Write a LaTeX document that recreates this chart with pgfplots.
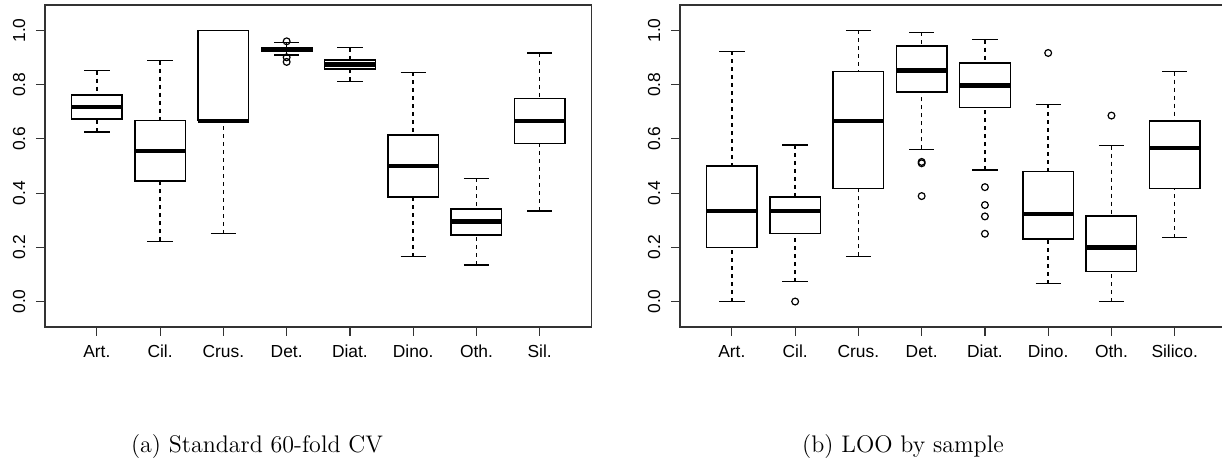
\documentclass[border=0pt]{standalone}
\usepackage{fontspec}
\newfontfamily\rfont{Liberation Sans}
\usepackage{pgfplots}
\pgfplotsset{compat=1.18}
\usepgfplotslibrary{statistics}

% R-like boxplot: dashed whiskers, solid staples, thick median, open circles
\pgfplotsset{
  rbox/.style={
    black, line width=0.7pt, mark=o, mark size=1.7pt,
    mark options={solid, line width=0.6pt},
    boxplot/draw direction=y,
    boxplot/box extend=0.8,
    boxplot/whisker extend=0.4,
    boxplot/every median/.style={line width=2.2pt},
    boxplot/draw/lower whisker/.code={%
      \draw[dash pattern=on 2pt off 2pt]
        (boxplot box cs:\pgfplotsboxplotvalue{lower whisker},0.5) --
        (boxplot box cs:\pgfplotsboxplotvalue{lower quartile},0.5);
      \draw (boxplot whisker cs:\pgfplotsboxplotvalue{lower whisker},0) --
        (boxplot whisker cs:\pgfplotsboxplotvalue{lower whisker},1);
    },
    boxplot/draw/upper whisker/.code={%
      \draw[dash pattern=on 2pt off 2pt]
        (boxplot box cs:\pgfplotsboxplotvalue{upper whisker},0.5) --
        (boxplot box cs:\pgfplotsboxplotvalue{upper quartile},0.5);
      \draw (boxplot whisker cs:\pgfplotsboxplotvalue{upper whisker},0) --
        (boxplot whisker cs:\pgfplotsboxplotvalue{upper whisker},1);
    },
  },
  rpanel/.style={
    scale only axis, width=273.3pt, height=161pt, anchor=south west,
    xmin=0.18, xmax=8.82, ymin=-0.094, ymax=1.094,
    xtick={1,2,3,4,5,6,7,8},
    ytick={0,0.2,0.4,0.6,0.8,1.0},
    yticklabels={0.0,0.2,0.4,0.6,0.8,1.0},
    tick align=outside, tick pos=left, major tick length=4.5pt,
    axis line style={black!80, line width=0.7pt},
    every tick/.style={black!80, line width=0.6pt},
    ticklabel style={font=\rfont\fontsize{8.7}{10}\selectfont},
    xticklabel style={anchor=base}, xticklabel shift=11pt,
    yticklabel style={rotate=90, anchor=south, inner sep=0pt}, yticklabel shift=5.2pt,
  },
}
% position, lower whisker, lower quartile, median, upper quartile, upper whisker
\newcommand{\rbox}[6]{\addplot[rbox, boxplot prepared={draw position=#1,
  lower whisker=#2, lower quartile=#3, median=#4, upper quartile=#5, upper whisker=#6}]}

\begin{document}
\begin{tikzpicture}
\useasboundingbox (0pt,0pt) rectangle (611pt,233pt);

% (a) Standard 60-fold CV
\begin{axis}[rpanel, at={(22.5pt,69.5pt)},
  xticklabels={Art.,Cil.,Crus.,Det.,Diat.,Dino.,Oth.,Sil.}]
\rbox{1}{0.626}{0.674}{0.718}{0.762}{0.852} coordinates {};
\rbox{2}{0.222}{0.444}{0.556}{0.667}{0.889} coordinates {};
\rbox{3}{0.250}{0.667}{0.667}{1.000}{1.000} coordinates {};
\rbox{4}{0.910}{0.924}{0.930}{0.936}{0.955} coordinates {(4,0.960) (4,0.901) (4,0.884)};
\rbox{5}{0.812}{0.858}{0.875}{0.891}{0.937} coordinates {};
\rbox{6}{0.166}{0.385}{0.500}{0.615}{0.846} coordinates {};
\rbox{7}{0.135}{0.245}{0.295}{0.341}{0.454} coordinates {};
\rbox{8}{0.334}{0.583}{0.667}{0.750}{0.917} coordinates {};
\end{axis}

% (b) LOO by sample
\begin{axis}[rpanel, at={(340pt,69.5pt)},
  xticklabels={Art.,Cil.,Crus.,Det.,Diat.,Dino.,Oth.,Silico.}]
\rbox{1}{0.000}{0.200}{0.333}{0.500}{0.923} coordinates {};
\rbox{2}{0.073}{0.250}{0.333}{0.385}{0.578} coordinates {(2,0.0)};
\rbox{3}{0.167}{0.417}{0.667}{0.848}{1.000} coordinates {};
\rbox{4}{0.561}{0.773}{0.852}{0.942}{0.993} coordinates {(4,0.515) (4,0.510) (4,0.389)};
\rbox{5}{0.485}{0.715}{0.797}{0.880}{0.966} coordinates {(5,0.422) (5,0.356) (5,0.314) (5,0.250)};
\rbox{6}{0.066}{0.230}{0.322}{0.480}{0.727} coordinates {(6,0.917)};
\rbox{7}{0.000}{0.111}{0.200}{0.316}{0.575} coordinates {(7,0.686)};
\rbox{8}{0.236}{0.416}{0.566}{0.666}{0.848} coordinates {};
\end{axis}

\node[anchor=base, font=\fontsize{12}{14.4}\selectfont] at (128.5pt,6.5pt) {(a) Standard 60-fold CV};
\node[anchor=base, font=\fontsize{12}{14.4}\selectfont] at (451.5pt,6.5pt) {(b) LOO by sample};
\end{tikzpicture}
\end{document}
